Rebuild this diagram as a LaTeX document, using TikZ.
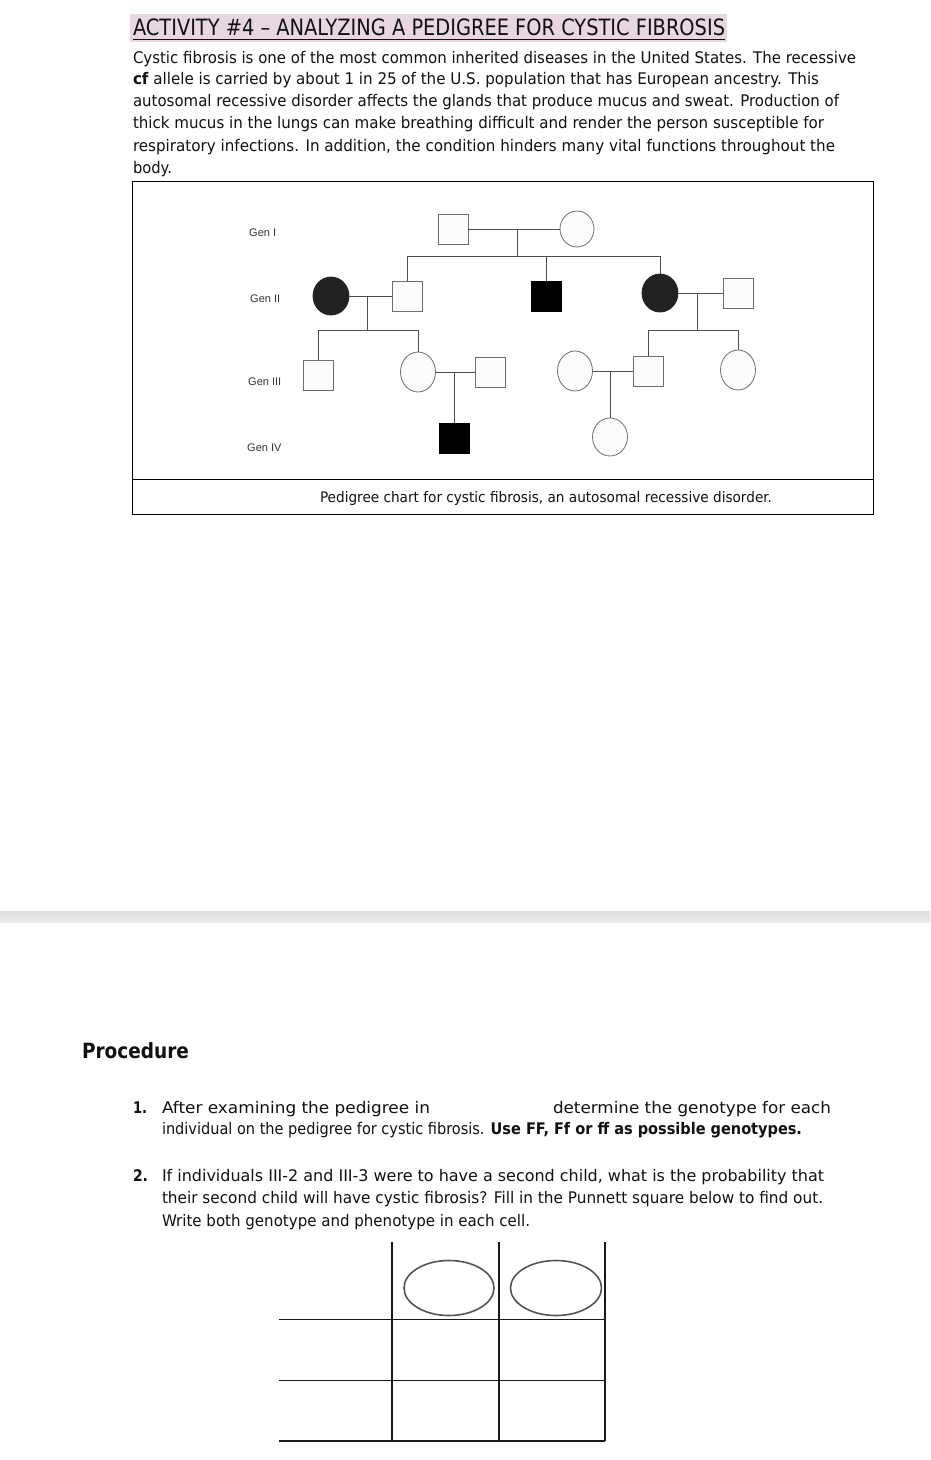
\documentclass[tikz,border=0pt]{standalone}
\usepackage{fontspec}
\usepackage{graphicx}
\setmainfont{DejaVu Sans}
\newfontfamily\genfont{Liberation Sans}
\usetikzlibrary{shapes.geometric}
\definecolor{txtc}{HTML}{111111}
\definecolor{hilite}{HTML}{E8D6E0}
\definecolor{pline}{HTML}{4D4D4D}
\definecolor{pedge}{HTML}{6E6E6E}
\definecolor{pfill}{HTML}{FCFBFD}
\definecolor{darkfill}{HTML}{222222}
\definecolor{bandtop}{HTML}{DDE0DE}
\definecolor{bandbot}{HTML}{EBECED}
\definecolor{ovalc}{HTML}{555555}
\newcommand\fitw[2]{\resizebox{#1pt}{\height}{#2}}
\tikzset{
  txt/.style={anchor=base west, inner sep=0pt, outer sep=0pt, text=txtc, font=\fontsize{16}{19}\selectfont},
  captxt/.style={anchor=base west, inner sep=0pt, outer sep=0pt, text=txtc, font=\fontsize{14.5}{17}\selectfont},
  gen/.style={anchor=base west, inner sep=0pt, text=black!80, font=\genfont\fontsize{11}{13}\selectfont},
  male/.style={draw=pedge, line width=0.8pt, fill=pfill, rectangle, minimum width=30pt, minimum height=30pt, inner sep=0pt, outer sep=0pt},
  female/.style={draw=pedge, line width=0.8pt, fill=pfill, ellipse, minimum width=35pt, minimum height=38pt, inner sep=0pt, outer sep=0pt},
  maleA/.style={male, fill=black, draw=black},
  femaleA/.style={female, fill=darkfill, draw=darkfill},
  link/.style={draw=pline, line width=0.8pt},
  gridline/.style={draw=black!90, line width=1.1pt},
  oval/.style={draw=ovalc, line width=1.6pt, ellipse, minimum width=90pt, minimum height=55pt, inner sep=0pt}
}
\begin{document}
\begin{tikzpicture}[x=1pt,y=-1pt]
\useasboundingbox[fill=white] (0,0) rectangle (930,1460);

% title
\fill[hilite] (130,14) rectangle (727,42);
\node[txt, font=\fontsize{22.5}{25}\selectfont] (title) at (133,35.5) {\fitw{592}{ACTIVITY \#4 – ANALYZING A PEDIGREE FOR CYSTIC FIBROSIS}};
\draw[txtc, line width=1.2pt] (133,39.5) -- (725,39.5);

% paragraph
\node[txt] (p1) at (133,63) {\fitw{723}{Cystic fibrosis is one of the most common inherited diseases in the United States. The recessive}};
\node[txt] (p2) at (133,84) {\fitw{686}{\textbf{cf} allele is carried by about 1 in 25 of the U.S. population that has European ancestry. This}};
\node[txt] (p3) at (133,106) {\fitw{706}{autosomal recessive disorder affects the glands that produce mucus and sweat. Production of}};
\node[txt] (p4) at (133,128) {\fitw{691}{thick mucus in the lungs can make breathing difficult and render the person susceptible for}};
\node[txt] (p5) at (133,151) {\fitw{702}{respiratory infections. In addition, the condition hinders many vital functions throughout the}};
\node[txt] (p6) at (133,173) {\fitw{39}{body.}};

% pedigree frame
\draw[black, line width=1pt] (132,181) rectangle (873,514);
\draw[black, line width=1pt] (132,479) -- (873,479);
\node[captxt] (caption) at (320,502) {\fitw{452}{Pedigree chart for cystic fibrosis, an autosomal recessive disorder.}};

% generation labels
\node[gen] (g1) at (249,236) {Gen I};
\node[gen] (g2) at (250,302) {Gen II};
\node[gen] (g3) at (248,385) {Gen III};
\node[gen] (g4) at (247,451) {Gen IV};

% individuals
\node[male] (I1) at (453,229) {};
\node[female, minimum width=34pt, minimum height=36pt] (I2) at (577,229) {};
\node[femaleA, minimum width=36pt] (II1) at (331,296) {};
\node[male] (II2) at (407,296) {};
\node[maleA] (II3) at (546,296) {};
\node[femaleA, minimum width=36pt] (II4) at (660,293) {};
\node[male] (II5) at (738,293) {};
\node[male] (III1) at (318,375) {};
\node[female, minimum height=40pt] (III2) at (418,372) {};
\node[male] (III3) at (490,372) {};
\node[female, minimum height=40pt] (III4) at (575,371) {};
\node[male] (III5) at (648,371) {};
\node[female, minimum height=40pt] (III6) at (738,370) {};
\node[maleA] (IV1) at (454,438) {};
\node[female] (IV2) at (610,437) {};

% coordinates for junctions
\coordinate (m1) at (517,229);
\coordinate (s1) at (517,256);
\coordinate (m2) at (367,296);
\coordinate (s2) at (367,330);
\coordinate (m3) at (697,293);
\coordinate (s3) at (697,330);
\coordinate (m4) at (454,372);
\coordinate (m5) at (610,371);

% generation I
\draw[link] (I1.east) -- (I2.west);
\draw[link] (m1) -- (s1);
\draw[link] (II2.north) -- (II2.north |- s1) -- (II4.north |- s1) -- (II4.north);
\draw[link] (II3.north) -- (II3.north |- s1);

% generation II
\draw[link] (II1.east) -- (II2.west);
\draw[link] (m2) -- (s2);
\draw[link] (III1.north) -- (III1.north |- s2) -- (III2.north |- s2) -- (III2.north);
\draw[link] (II4.east) -- (II5.west);
\draw[link] (m3) -- (s3);
\draw[link] (III5.north) -- (III5.north |- s3) -- (III6.north |- s3) -- (III6.north);

% generation III
\draw[link] (III2.east) -- (III3.west);
\draw[link] (m4) -- (IV1.north);
\draw[link] (III4.east) -- (III5.west);
\draw[link] (m5) -- (IV2.north);

% page separator band
\shade[top color=bandtop, bottom color=bandbot] (0,911) rectangle (930,922);

% procedure
\node[txt, font=\bfseries\fontsize{21}{24}\selectfont] (proc) at (82,1058) {\fitw{107}{Procedure}};

\node[txt] (n1) at (133,1113) {\fitw{14}{\textbf{1.}}};
\node[txt] (q1a) at (162,1113) {\fitw{268}{After examining the pedigree in}};
\node[txt] (q1b) at (553,1113) {\fitw{278}{determine the genotype for each}};
\node[txt] (q1c) at (162,1134) {\fitw{640}{individual on the pedigree for cystic fibrosis. \textbf{Use FF, Ff or ff as possible genotypes.}}};

\node[txt] (n2) at (133,1181) {\fitw{15}{\textbf{2.}}};
\node[txt] (q2a) at (162,1181) {\fitw{662}{If individuals III-2 and III-3 were to have a second child, what is the probability that}};
\node[txt] (q2b) at (162,1203) {\fitw{661}{their second child will have cystic fibrosis? Fill in the Punnett square below to find out.}};
\node[txt] (q2c) at (162,1226) {\fitw{368}{Write both genotype and phenotype in each cell.}};

% Punnett square
\draw[gridline] (392,1242) -- (392,1441);
\draw[gridline] (499,1242) -- (499,1441);
\draw[gridline] (605,1242) -- (605,1441);
\draw[gridline] (279,1319.5) -- (605,1319.5);
\draw[gridline] (279,1380.5) -- (605,1380.5);
\draw[gridline] (279,1441) -- (605,1441);
\node[oval] (e1) at (449,1288) {};
\node[oval, minimum width=91pt] (e2) at (556,1288) {};
\end{tikzpicture}
\end{document}
